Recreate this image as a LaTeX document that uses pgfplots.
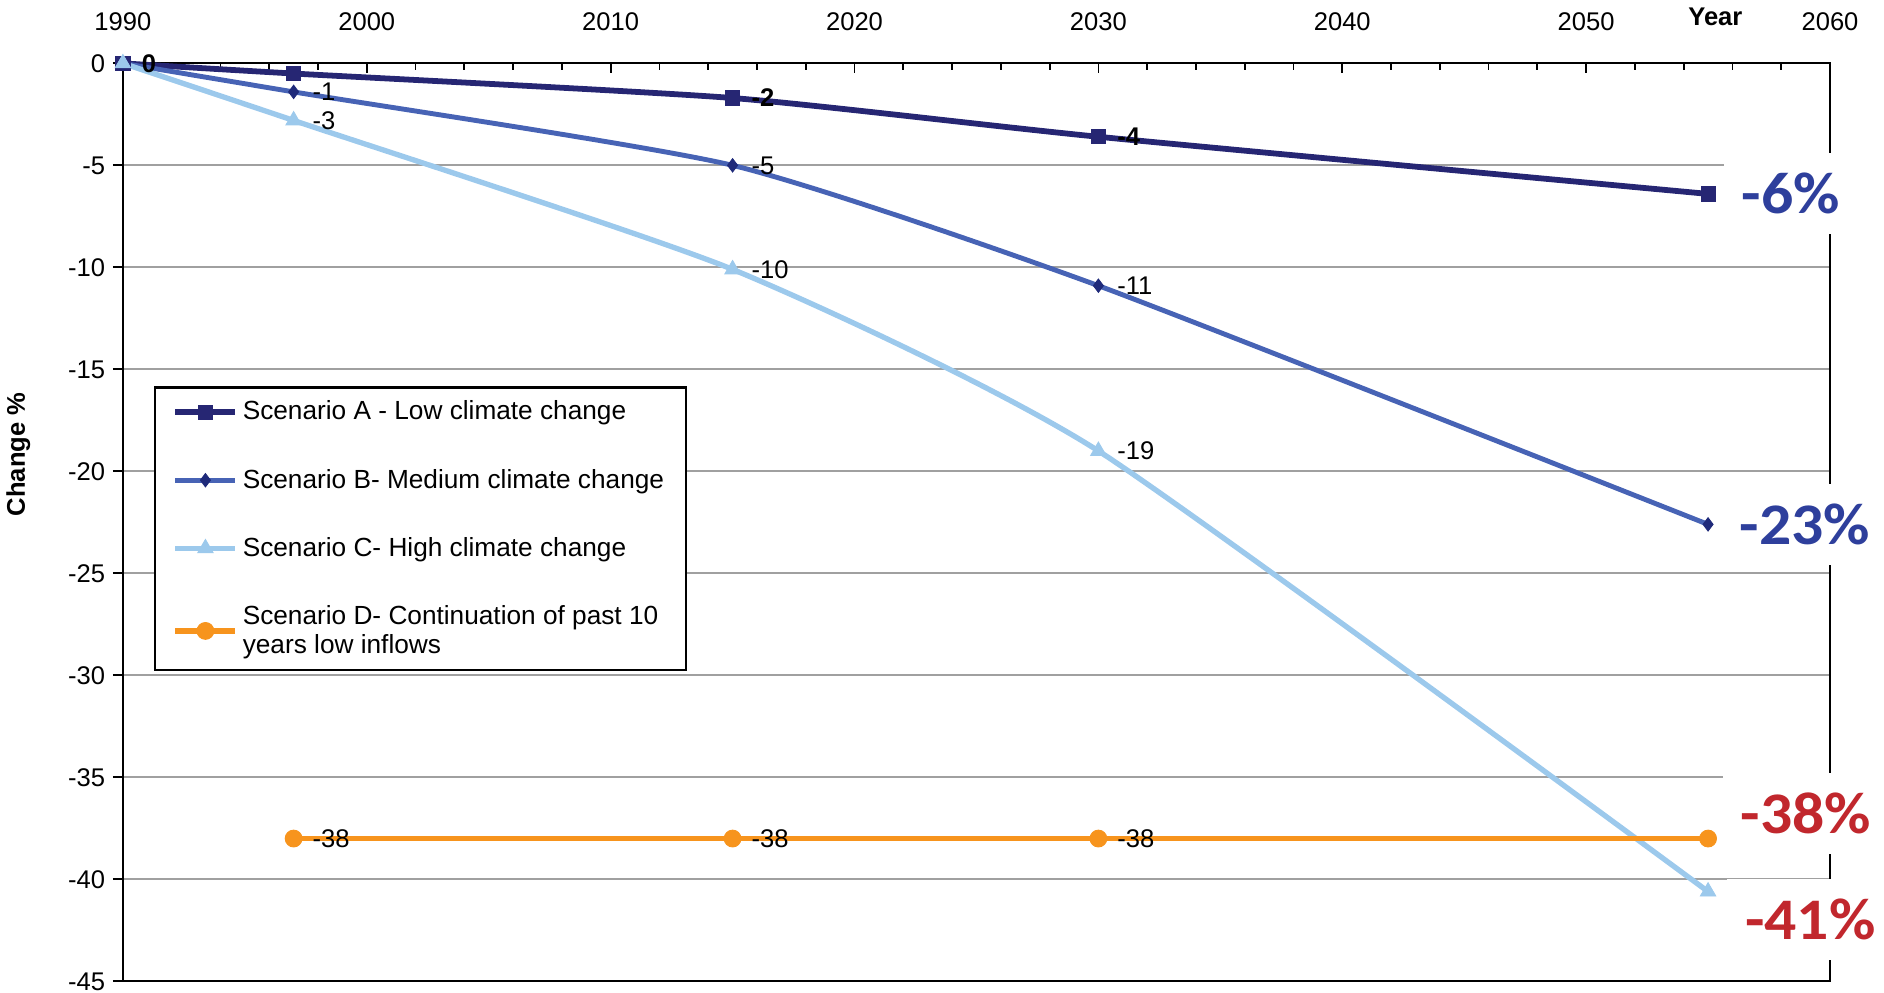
\documentclass[border=0pt]{standalone}
\usepackage{fontspec}
\setmainfont{Liberation Sans}
\newfontfamily\pctfont{Carlito}[FakeStretch=1.08]
\usepackage{pgfplots}
\pgfplotsset{compat=1.18}

\definecolor{scenA}{HTML}{262673}
\definecolor{scenB}{HTML}{4763B5}
\definecolor{scenBmark}{HTML}{1F2A7A}
\definecolor{scenC}{HTML}{9CC9EC}
\definecolor{scenD}{HTML}{F7941D}
\definecolor{pctblue}{HTML}{2E3F9C}
\definecolor{pctred}{HTML}{C1272D}
\definecolor{gridgray}{HTML}{A0A0A0}

\newcommand{\lblfont}{\fontsize{11.5}{13.5}\selectfont}
\newcommand{\legfont}{\fontsize{11.8}{13}\selectfont}

\begin{document}
\begin{tikzpicture}
\begin{axis}[
  scale only axis,
  width=768pt, height=413pt,
  xmin=1990, xmax=2060, ymin=-45, ymax=0,
  clip=false,
  axis line style={black, line width=0.9pt},
  xtick={1990,2000,...,2060}, minor x tick num=4,
  xtick pos=upper, xticklabel pos=upper,
  xtick align=inside, ytick align=outside,
  ytick={-45,-40,...,0}, ytick pos=lower,
  major tick length=4.5pt, minor tick length=3pt,
  tick style={black, line width=0.8pt},
  ymajorgrids,
  major grid style={gridgray, line width=0.8pt},
  xticklabel shift=11pt,
  /pgf/number format/assume math mode=true,
  /pgf/number format/set thousands separator={},
  ticklabel style={font=\lblfont},
  legend style={at={(rel axis cs:0.018,0.648)}, anchor=north west,
    draw=black, line width=1pt, fill=white, font=\legfont,
    row sep=16.6pt, inner xsep=8pt, inner ysep=4pt,
    cells={anchor=west, align=left}},
  legend image code/.code={\draw[mark repeat=2, mark phase=2, #1]
    plot coordinates {(0pt,0pt) (13.5pt,0pt) (27pt,0pt)};},
  nodes near coords,
  point meta=explicit symbolic,
  every node near coord/.append style={anchor=west, xshift=5pt, yshift=0pt, font=\lblfont, text=black},
  nodes near coords align={horizontal},
]
\coordinate (SW) at (rel axis cs:0,0);
\coordinate (NE) at (rel axis cs:1,1);

% Scenario A
\addplot[scenA, line width=2.6pt, smooth, tension=0.35, mark=square*, mark size=3.2pt,
  mark options={solid, fill=scenA, draw=scenA, line width=0.4pt},
  every node near coord/.append style={font=\lblfont\bfseries}]
  coordinates {(1990,0) [0] (1997,-0.5) [{}] (2015,-1.7) [-2] (2030,-3.6) [-4] (2055,-6.4) [{}]};
\addlegendentry{Scenario A - Low climate change}

% Scenario B
\addplot[scenB, line width=2.2pt, smooth, tension=0.35, mark=diamond*, mark size=3pt,
  mark options={solid, fill=scenBmark, draw=scenBmark, line width=0.4pt}]
  coordinates {(1990,0) [{}] (1997,-1.4) [-1] (2015,-5.0) [-5] (2030,-10.9) [-11] (2055,-22.6) [{}]};
\addlegendentry{Scenario B- Medium climate change}

% Scenario C
\addplot[scenC, line width=2.4pt, smooth, tension=0.35, mark=triangle*, mark size=4pt,
  mark options={solid, fill=scenC, draw=scenC, line width=0.4pt}]
  coordinates {(1990,0) [{}] (1997,-2.8) [-3] (2015,-10.1) [-10] (2030,-19.0) [-19] (2055,-40.6) [{}]};
\addlegendentry{Scenario C- High climate change}

% Scenario D
\addplot[scenD, line width=2.6pt, mark=*, mark size=3.8pt,
  mark options={solid, fill=scenD, draw=scenD, line width=0.4pt}]
  coordinates {(1997,-38) [-38] (2015,-38) [-38] (2030,-38) [-38] (2055,-38) [{}]};
\addlegendentry{Scenario D- Continuation of past 10\\years low inflows}

% end-of-period totals
\tikzset{pct/.style={fill=white, anchor=west, inner xsep=8pt, inner ysep=9pt,
  font=\pctfont\bfseries\fontsize{26.5}{26.5}\selectfont}}
\node[pct, text=pctblue] at ([xshift=7pt]axis cs:2055,-6.4) {-6\%};
\node[pct, text=pctblue] at ([xshift=6pt]axis cs:2055,-22.6) {-23\%};
\node[pct, text=pctred] at ([xshift=6.5pt, yshift=11.3pt]axis cs:2055,-38) {-38\%};
\node[pct, text=pctred] at ([xshift=8.5pt, yshift=-12.4pt]axis cs:2055,-40.6) {-41\%};

\node[font=\lblfont\bfseries] at ([yshift=20.7pt]axis cs:2055.3,0) {Year};
\node[font=\lblfont\bfseries, rotate=90] at ([xshift=-47pt]rel axis cs:0,0.574) {Change \%};
\end{axis}
\pgfresetboundingbox
\path ([shift={(-55.3pt,-4.8pt)}]SW) rectangle ([shift={(24.3pt,28.5pt)}]NE);
\end{tikzpicture}
\end{document}
